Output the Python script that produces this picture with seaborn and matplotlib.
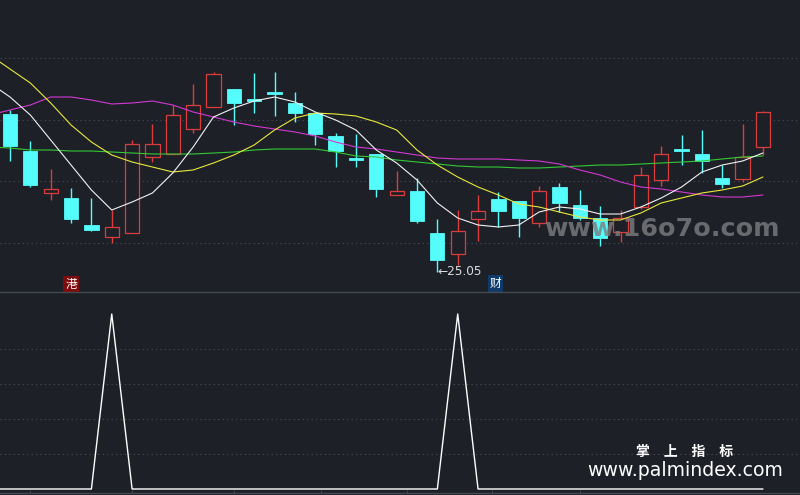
import numpy as np
import pandas as pd
import matplotlib
matplotlib.use("Agg")
import matplotlib.pyplot as plt
import matplotlib.transforms as mtransforms
import seaborn as sns

# ---------------- data ----------------
opens  = [29.79, 28.68, 27.42, 27.27, 26.46, 26.10, 26.22, 28.50, 28.59, 29.34,
          30.00, 30.54, 30.225, 30.45, 30.12, 29.82, 29.13, 28.47, 28.59, 27.36,
          27.48, 26.22, 25.59, 26.64, 27.24, 27.18, 26.52, 27.60, 27.06, 26.67,
          26.25, 27.00, 27.81, 28.74, 28.59, 27.87, 27.84, 28.80]
highs  = [29.91, 28.98, 28.14, 27.57, 27.27, 26.91, 29.01, 29.49, 30.06, 30.69,
          31.05, 30.54, 31.02, 31.05, 30.45, 29.82, 29.22, 29.19, 28.59, 28.08,
          27.87, 26.64, 26.91, 27.36, 27.45, 27.18, 27.63, 27.72, 27.51, 27.03,
          26.91, 28.20, 28.83, 29.16, 29.31, 28.26, 29.49, 29.88]
lows   = [28.38, 27.60, 27.21, 26.52, 26.28, 25.92, 26.22, 28.35, 28.59, 29.22,
          30.00, 29.46, 29.82, 29.73, 29.55, 28.86, 28.20, 28.20, 27.30, 27.36,
          26.52, 25.05, 25.26, 25.98, 26.40, 26.10, 26.40, 26.85, 26.61, 25.83,
          25.95, 26.94, 27.63, 28.26, 28.02, 27.57, 27.75, 28.56]
closes = [28.83, 27.66, 27.54, 26.64, 26.31, 26.40, 28.89, 28.89, 29.76, 30.06,
          30.99, 30.12, 30.18, 30.39, 29.82, 29.19, 28.68, 28.41, 27.54, 27.48,
          26.58, 25.41, 26.28, 26.88, 26.88, 26.67, 27.48, 27.12, 26.67, 26.07,
          26.67, 27.96, 28.59, 28.68, 28.38, 27.69, 28.50, 29.85]

# moving averages, first value belongs to the day before the first visible candle
ma_days = list(range(-1, 38))
ma5  = [30.72, 30.30, 29.76, 29.01, 28.26, 27.51, 26.91, 27.15, 27.42, 28.02,
        28.80, 29.70, 29.97, 30.18, 30.30, 30.15, 29.85, 29.61, 29.31, 28.71,
        28.32, 27.81, 27.12, 26.67, 26.46, 26.40, 26.46, 26.85, 27.00, 26.94,
        26.79, 26.79, 27.00, 27.27, 27.60, 28.05, 28.26, 28.38, 28.62]
ma10 = [31.56, 31.14, 30.72, 30.12, 29.46, 28.95, 28.56, 28.35, 28.20, 28.05,
        28.11, 28.32, 28.56, 28.86, 29.31, 29.67, 29.82, 29.79, 29.73, 29.55,
        29.31, 28.71, 28.26, 27.90, 27.60, 27.36, 27.09, 27.00, 26.85, 26.70,
        26.61, 26.61, 26.82, 27.12, 27.27, 27.42, 27.51, 27.63, 27.90]
ma20 = [29.76, 29.91, 30.06, 30.30, 30.30, 30.21, 30.09, 30.12, 30.18, 30.06,
        29.85, 29.70, 29.55, 29.43, 29.34, 29.25, 29.13, 28.95, 28.80, 28.74,
        28.65, 28.56, 28.47, 28.44, 28.44, 28.44, 28.41, 28.38, 28.29, 28.11,
        27.96, 27.75, 27.60, 27.54, 27.45, 27.36, 27.30, 27.30, 27.36]
ma60 = [28.80, 28.77, 28.71, 28.71, 28.68, 28.68, 28.65, 28.62, 28.59, 28.59,
        28.59, 28.62, 28.65, 28.71, 28.74, 28.74, 28.74, 28.65, 28.53, 28.50,
        28.41, 28.35, 28.29, 28.23, 28.20, 28.20, 28.17, 28.17, 28.20, 28.23,
        28.26, 28.26, 28.29, 28.32, 28.35, 28.38, 28.44, 28.50, 28.53]
signal = [0, 0, 0, 0, 0, 0, 1, 0, 0, 0,
          0, 0, 0, 0, 0, 0, 0, 0, 0, 0,
          0, 0, 0, 1, 0, 0, 0, 0, 0, 0,
          0, 0, 0, 0, 0, 0, 0, 0, 0]

low_label = "←25.05"
low_index = 21
tag_left, tag_left_index = "港", 3
tag_right, tag_right_index = "财", 24
top_grid = [25.92, 27.78, 29.61, 31.47]
bottom_grid = [0.2, 0.4, 0.6, 0.8]
date_ticks = [1, 6, 11, 15.3, 19.5, 23.7, 28]
brand_cn = "掌　上　指　标"
brand_url = "www.palmindex.com"
watermark = "www.16o7o.com"

# ---------------- style ----------------
BG = "#1d2027"
CYAN = "#55fcfc"
RED = "#dc3c3c"
GRID = "#4a4e57"
sns.set_theme(style="dark", rc={"axes.facecolor": BG, "figure.facecolor": BG,
                                "savefig.facecolor": BG})
plt.rcParams["font.family"] = ["DejaVu Sans", "Noto Sans CJK SC"]

fig = plt.figure(figsize=(8, 4.95), dpi=100)
ax1 = fig.add_axes([0, 203 / 495, 1, 292 / 495])
ax2 = fig.add_axes([0, 2 / 495, 1, 201 / 495])

X_LEFT, X_RIGHT = -10 / 20.35, 790 / 20.35

# ---------------- candles ----------------
df = pd.DataFrame({"o": opens, "h": highs, "l": lows, "c": closes})
df["x"] = np.arange(len(df))
up = df[df.c >= df.o]
dn = df[df.c < df.o]
W = 0.7
# down (cyan, filled)
ax1.vlines(dn.x, dn.l, dn.h, color=CYAN, lw=1.0, zorder=3)
ax1.bar(dn.x, np.maximum(dn.o - dn.c, 0.04), bottom=dn.c, width=W,
        color=CYAN, edgecolor=CYAN, linewidth=0.6, zorder=4)
# up (red, hollow)
ax1.vlines(up.x, up.c, up.h, color=RED, lw=1.0, zorder=3)
ax1.vlines(up.x, up.l, up.o, color=RED, lw=1.0, zorder=3)
ax1.bar(up.x, np.maximum(up.c - up.o, 0.04), bottom=up.o, width=W,
        facecolor=BG, edgecolor=RED, linewidth=0.9, zorder=4)

# ---------------- moving averages ----------------
ma = pd.DataFrame({"x": ma_days, "ma5": ma5, "ma10": ma10, "ma20": ma20, "ma60": ma60})
for col, colr in [("ma60", "#34c934"), ("ma20", "#d238d2"),
                  ("ma10", "#e8e83c"), ("ma5", "#f2f2f2")]:
    sns.lineplot(data=ma, x="x", y=col, ax=ax1, color=colr, linewidth=0.8,
                 zorder=5, legend=False)

ax1.set_xlim(X_LEFT, X_RIGHT)
ax1.set_ylim(24.45, 33.21)
for g in top_grid:
    ax1.axhline(g, color=GRID, lw=0.8, ls=(0, (1, 3)), zorder=1)
ax1.set_xticks([]); ax1.set_yticks([])
ax1.set_xlabel(""); ax1.set_ylabel("")
for s in ax1.spines.values():
    s.set_visible(False)

# lowest-price label
ax1.text(low_index - 0.02, lows[low_index], low_label, color="#dcdcdc", fontsize=8.7,
         ha="left", va="center", zorder=6)

# tags
tr = mtransforms.blended_transform_factory(ax1.transData, ax1.transAxes)
ax1.text(tag_left_index, 0.026, tag_left, transform=tr, ha="center", va="center",
         fontsize=8.5, color="white", family=["Noto Sans CJK SC", "DejaVu Sans"],
         bbox=dict(boxstyle="square,pad=0.15", fc="#7d0c0c", ec="none"), zorder=6)
ax1.text(tag_right_index - 0.13, 0.03, tag_right, transform=tr, ha="center", va="center",
         fontsize=8.5, color="white", family=["Noto Sans CJK SC", "DejaVu Sans"],
         bbox=dict(boxstyle="square,pad=0.15", fc="#0f3b6a", ec="none"), zorder=6)

# ---------------- bottom signal panel ----------------
sig = pd.DataFrame({"x": ma_days, "s": signal})
sns.lineplot(data=sig, x="x", y="s", ax=ax2, color="white", linewidth=1.0,
             legend=False, zorder=4)
ax2.set_xlim(X_LEFT, X_RIGHT)
ax2.set_ylim((489 - 493) / 175, 1 + (314 - 292) / 175)
for g in bottom_grid:
    ax2.axhline(g, color=GRID, lw=0.8, ls=(0, (1, 3)), zorder=1)
ax2.set_yticks([])
ax2.set_xticks(date_ticks)
ax2.set_xticklabels([])
ax2.tick_params(axis="x", direction="in", length=2, color="#3f434c", width=0.8,
                bottom=True)
ax2.set_xlabel(""); ax2.set_ylabel("")
for name, s in ax2.spines.items():
    s.set_visible(name in ("top", "bottom"))
    s.set_color("#454952")
    s.set_linewidth(1.0)

# ---------------- watermarks ----------------
fig.text(661.5 / 800, (495 - 236) / 495, watermark, ha="center", va="baseline",
         fontsize=18.3, fontweight="bold", color="#7c7d80", alpha=0.8, zorder=10)
fig.text(685 / 800, (495 - 451.5) / 495, brand_cn, ha="center", va="center",
         fontsize=10, fontweight="bold", color="white",
         family=["Noto Sans CJK SC", "DejaVu Sans"], zorder=10)
fig.text(685 / 800, (495 - 470) / 495, brand_url, ha="center", va="center",
         fontsize=13.6, color="white", zorder=10)

fig.savefig("out.png", dpi=100, facecolor=BG)
